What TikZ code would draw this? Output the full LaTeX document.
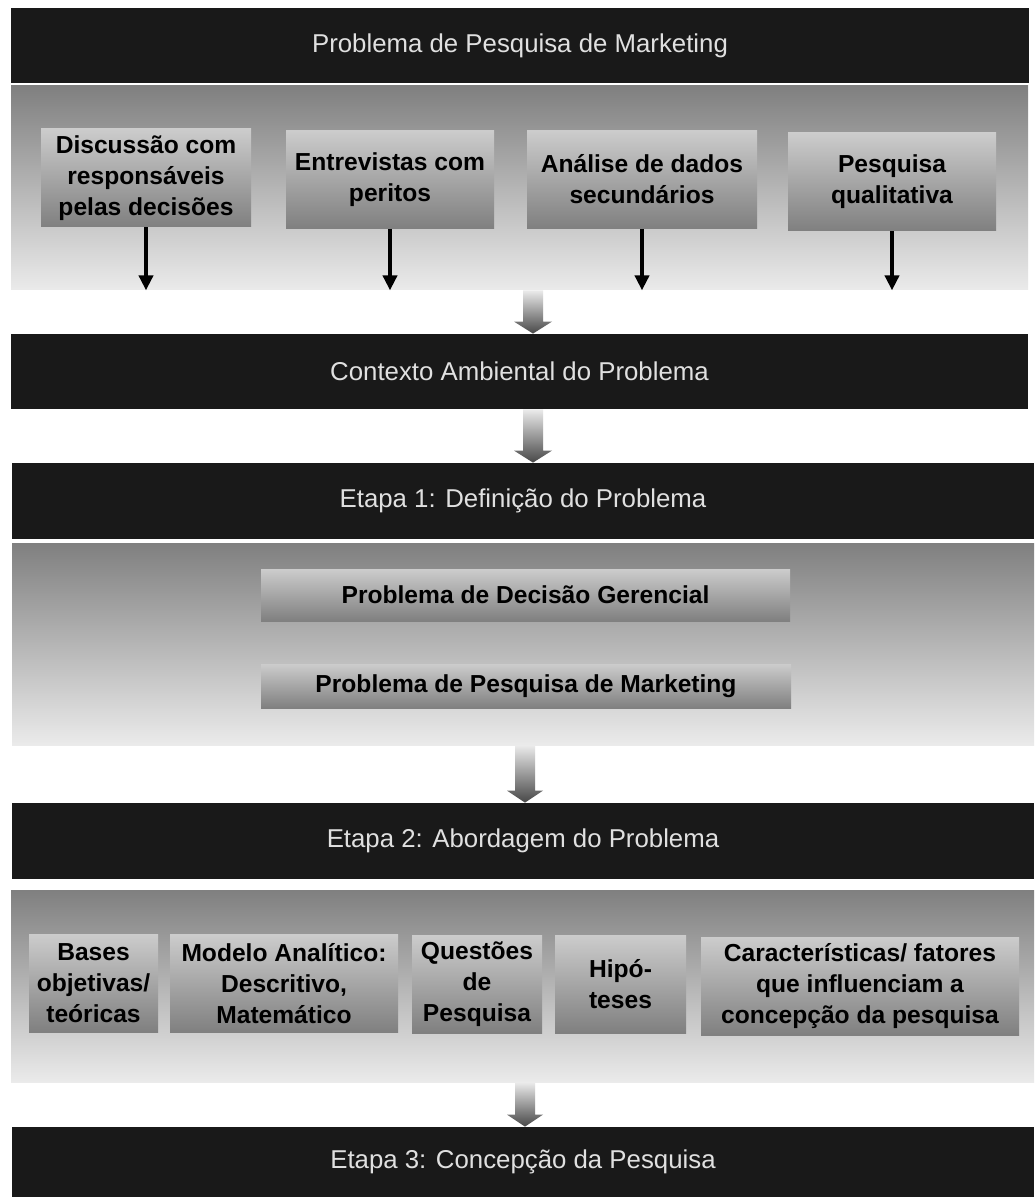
\documentclass[tikz,border=0pt]{standalone}
\usepackage{fontspec}
\setmainfont{Liberation Sans}
\usetikzlibrary{positioning}
\usetikzlibrary{calc}
\usetikzlibrary{arrows.meta}

\begin{document}
\begin{tikzpicture}[x=0.5pt, y=-0.5pt,
    titlebar/.style={fill=black!90, draw=none, text=black!12, inner sep=0pt,
        minimum height=37.5pt, font=\fontsize{12.9}{15}\selectfont},
    panel/.style={top color=black!50, bottom color=black!8, draw=none, inner sep=0pt},
    itembox/.style={top color=black!20, bottom color=black!50, draw=none, inner sep=0pt,
        align=center, minimum height=49pt, font=\fontsize{12.3}{15.5}\selectfont\bfseries},
    thinarrow/.style={line width=1.9pt, -{Triangle[width=7pt,length=7.5pt]}},
    blockarrow/.style={top color=black!8, bottom color=black!72, draw=none}]

  \useasboundingbox (0,0) rectangle (1034,1197);
  \fill[white] (0,0) rectangle (1034,1197);

  % panels behind the boxes
  \node[panel, minimum width=508.5pt, minimum height=102pt] (panelA) at (519.5,188) {};
  \node[panel, minimum width=511pt, minimum height=101pt] (panelB) at (523,644) {};
  \node[panel, minimum width=511.5pt, minimum height=96pt] (panelC) at (522.5,986) {};

  % stage bars
  \node[titlebar, minimum width=509pt] (barA) at (520,45.5) {Problema de Pesquisa de Marketing};
  \node[titlebar, minimum width=508.5pt] (barB) at (519.5,371.5) {Contexto Ambiental do Problema};
  \node[titlebar, minimum width=511pt, minimum height=38pt] (barC) at (523,501) {Etapa 1: Definição do Problema};
  \node[titlebar, minimum width=511pt, minimum height=38pt] (barD) at (523,841) {Etapa 2: Abordagem do Problema};
  \node[titlebar, minimum width=511pt, minimum height=35pt] (barE) at (523,1162) {Etapa 3: Concepção da Pesquisa};

  % tasks
  \node[itembox, minimum width=105pt] (discussao) at (146,178) {Discussão com\\responsáveis\\pelas decisões};
  \node[itembox, minimum width=104pt] (entrevistas) at (390,179.5) {Entrevistas com\\peritos};
  \node[itembox, minimum width=115pt] (analise) at (642,179.5) {Análise de dados\\secundários};
  \node[itembox, minimum width=104pt] (qualitativa) at (892,182) {Pesquisa\\qualitativa};

  \foreach \n in {discussao, entrevistas, analise, qualitativa}
    \draw[thinarrow] (\n.south) -- (\n.south |- panelA.south);

  % stage 1
  \node[itembox, minimum width=264.5pt, minimum height=26pt] (decisao) at (525.5,595) {Problema de Decisão Gerencial};
  \node[itembox, minimum width=265pt, minimum height=22pt] (pesquisa) at (526,686) {Problema de Pesquisa de Marketing};

  % stage 2
  \node[itembox, minimum width=64.5pt] (bases) at (93.5,983) {Bases\\objetivas/\\teóricas};
  \node[itembox, minimum width=114pt] (modelo) at (284,983.5) {Modelo Analítico:\\Descritivo,\\Matemático};
  \node[itembox, minimum width=65pt] (questoes) at (477,984) {Questões\\de\\Pesquisa};
  \node[itembox, minimum width=65.5pt] (hipoteses) at (620.5,984) {Hipó-\\teses};
  \node[itembox, minimum width=159pt] (caracteristicas) at (860,986) {Características/ fatores\\que influenciam a\\concepção da pesquisa};

  % block arrows between stages
  \foreach \a/\b/\c/\h in {panelA/barB/533/19, barB/barC/533/19, panelB/barD/525/18, panelC/barE/525/18}
    \shade[blockarrow] (\c-10,0 |- \a.south) -- (\c+10,0 |- \a.south)
        -- ($(\c+10,0 |- \b.north)+(0,-12)$) -- ($(\c+\h,0 |- \b.north)+(0,-12)$)
        -- (\c,0 |- \b.north) -- ($(\c-\h,0 |- \b.north)+(0,-12)$)
        -- ($(\c-10,0 |- \b.north)+(0,-12)$) -- cycle;
\end{tikzpicture}
\end{document}
